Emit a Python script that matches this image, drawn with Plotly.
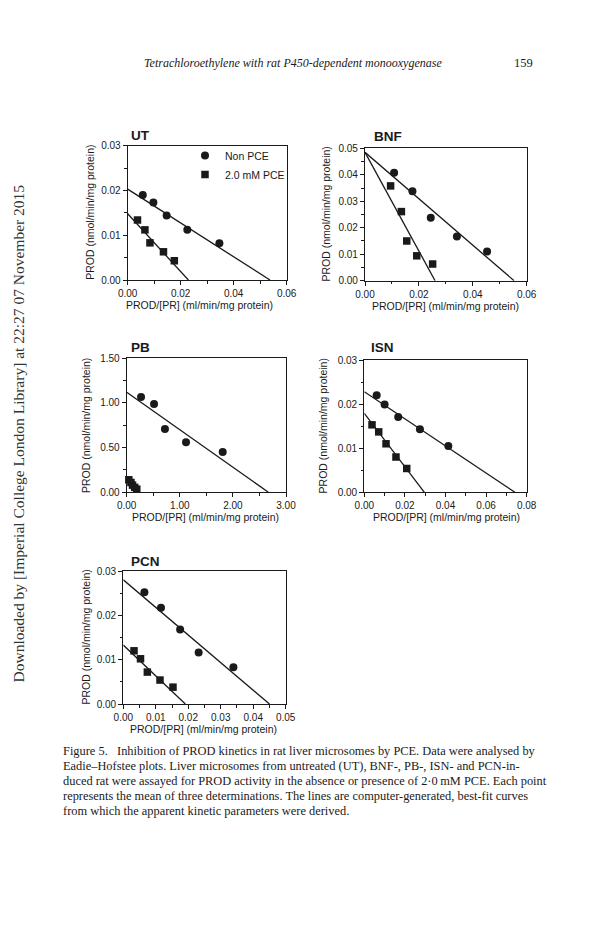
import plotly.graph_objects as go

W, H = 615, 944

# ---------------- data ----------------
panels = ["UT", "BNF", "PB", "ISN", "PCN"]

ut_non_x = [0.0057, 0.0097, 0.0147, 0.0225, 0.0346]
ut_non_y = [0.0190, 0.0173, 0.0144, 0.0112, 0.0082]
ut_pce_x = [0.0037, 0.0065, 0.0084, 0.0135, 0.0176]
ut_pce_y = [0.0134, 0.0112, 0.0083, 0.0063, 0.0043]

bnf_non_x = [0.0108, 0.0176, 0.0244, 0.0341, 0.0453]
bnf_non_y = [0.0408, 0.0338, 0.0238, 0.0167, 0.0110]
bnf_pce_x = [0.0095, 0.0135, 0.0155, 0.0192, 0.0251]
bnf_pce_y = [0.0358, 0.0261, 0.0150, 0.0094, 0.0063]

pb_non_x = [0.27, 0.515, 0.72, 1.117, 1.808]
pb_non_y = [1.067, 0.989, 0.709, 0.560, 0.451]
pb_pce_x = [0.04, 0.08, 0.11, 0.15, 0.19]
pb_pce_y = [0.14, 0.11, 0.08, 0.055, 0.035]

isn_non_x = [0.0061, 0.0100, 0.0167, 0.0274, 0.0414]
isn_non_y = [0.0220, 0.0199, 0.0171, 0.0143, 0.0105]
isn_pce_x = [0.0038, 0.0071, 0.0107, 0.0156, 0.0209]
isn_pce_y = [0.0153, 0.0137, 0.0110, 0.0080, 0.0054]

pcn_non_x = [0.0065, 0.0116, 0.0175, 0.0232, 0.0339]
pcn_non_y = [0.0252, 0.0217, 0.0168, 0.0116, 0.0083]
pcn_pce_x = [0.0033, 0.0053, 0.0074, 0.0113, 0.0153]
pcn_pce_y = [0.0120, 0.0102, 0.0072, 0.0054, 0.0038]

# best-fit lines: y-intercept (Vmax) and x-intercept for each panel
fit_non_yint = [0.0203, 0.0485, 1.12, 0.0228, 0.0280]
fit_non_xint = [0.0537, 0.0553, 2.668, 0.0742, 0.0450]
fit_pce_yint = [0.0148, 0.0485, 0.16, 0.0179, 0.0133]
fit_pce_xint = [0.0229, 0.0260, 0.24, 0.0296, 0.0191]

x_max = [0.06, 0.06, 3.0, 0.08, 0.05]
y_max = [0.03, 0.05, 1.5, 0.03, 0.03]
x_dtick = [0.02, 0.02, 1.0, 0.02, 0.01]
y_dtick = [0.01, 0.01, 0.5, 0.01, 0.01]

series_names = ["Non PCE", "2.0 mM PCE"]

x_title = "PROD/[PR] (ml/min/mg protein)"
y_title = "PROD (nmol/min/mg protein)"

header = "Tetrachloroethylene with rat P450-dependent monooxygenase"
page_no = "159"
watermark = "Downloaded by [Imperial College London Library] at 22:27 07 November 2015"
caption_lines = [
    "Figure 5.   Inhibition of PROD kinetics in rat liver microsomes by PCE. Data were analysed by",
    "Eadie\u2013Hofstee plots. Liver microsomes from untreated (UT), BNF-, PB-, ISN- and PCN-in-",
    "duced rat were assayed for PROD activity in the absence or presence of 2\u00b70\u202fmM PCE. Each point",
    "represents the mean of three determinations. The lines are computer-generated, best-fit curves",
    "from which the apparent kinetic parameters were derived.",
]

# ---------------- layout geometry (pixels on the page) ----------------
# (left, right, top, bottom) of each plotting box
boxes = [
    (127.7, 286.7, 145.7, 280.0),
    (365.0, 526.7, 148.3, 280.7),
    (126.7, 286.0, 358.3, 492.3),
    (364.3, 526.7, 360.0, 492.3),
    (123.3, 285.7, 571.0, 704.0),
]
title_pos = [(140, 135), (388, 136.5), (140, 348), (382, 348), (145, 561.5)]
xtitle_x = [199, 445, 205, 446.7, 203]
ytitle_x = [90, 325, 86.7, 323.3, 85]

data_sets = [
    (ut_non_x, ut_non_y, ut_pce_x, ut_pce_y),
    (bnf_non_x, bnf_non_y, bnf_pce_x, bnf_pce_y),
    (pb_non_x, pb_non_y, pb_pce_x, pb_pce_y),
    (isn_non_x, isn_non_y, isn_pce_x, isn_pce_y),
    (pcn_non_x, pcn_non_y, pcn_pce_x, pcn_pce_y),
]

INK = "#1a1a1a"
SANS = "Liberation Sans, Arial, Helvetica, sans-serif"
SERIF = "Liberation Serif, Times New Roman, serif"
FS = 10
OFF = 8  # the page body margin shifts the figure by this much


def px(x):
    return (x - OFF) / W


def py(y):
    return 1 - (y - OFF) / H


fig = go.Figure()
layout = dict(
    width=W, height=H, margin=dict(l=0, r=0, t=0, b=0, pad=0, autoexpand=False),
    paper_bgcolor="white", plot_bgcolor="white",
    font=dict(family=SANS, color=INK, size=FS),
    showlegend=True,
    legend=dict(x=px(185), y=py(141), xanchor="left", yanchor="top",
                bgcolor="rgba(0,0,0,0)", font=dict(size=10.5, family=SANS, color=INK),
                tracegroupgap=0, itemwidth=30),
)
annotations = []

for i, name in enumerate(panels):
    k = "" if i == 0 else str(i + 1)
    xa, ya = "x" + k, "y" + k
    l, r, t, b = boxes[i]
    nx, ny, sx, sy = data_sets[i]
    show = i == 0
    # fitted lines
    fig.add_trace(go.Scatter(x=[0, fit_non_xint[i]], y=[fit_non_yint[i], 0], mode="lines",
                             line=dict(color=INK, width=1.3), xaxis=xa, yaxis=ya,
                             showlegend=False, hoverinfo="skip"))
    fig.add_trace(go.Scatter(x=[0, fit_pce_xint[i]], y=[fit_pce_yint[i], 0], mode="lines",
                             line=dict(color=INK, width=1.3), xaxis=xa, yaxis=ya,
                             showlegend=False, hoverinfo="skip"))
    # points
    fig.add_trace(go.Scatter(x=nx, y=ny, mode="markers", name=series_names[0],
                             marker=dict(symbol="circle", size=8, color=INK),
                             xaxis=xa, yaxis=ya, showlegend=show, cliponaxis=False))
    fig.add_trace(go.Scatter(x=sx, y=sy, mode="markers", name=series_names[1],
                             marker=dict(symbol="square", size=7.5, color=INK),
                             xaxis=xa, yaxis=ya, showlegend=show, cliponaxis=False))

    axis_common = dict(showline=True, linecolor=INK, linewidth=1.2, mirror=True,
                       ticks="outside", ticklen=4, tickwidth=1, tickcolor=INK,
                       showgrid=False, zeroline=False, tickformat=".2f", automargin=False,
                       tickfont=dict(size=FS, family=SANS, color=INK), fixedrange=True)
    layout["xaxis" + k] = dict(axis_common, domain=[px(l), px(r)], range=[0, x_max[i]],
                               dtick=x_dtick[i], tick0=0, anchor=ya,
                               minor=dict(ticks="outside", ticklen=2.5, dtick=x_dtick[i] / 2,
                                          tickcolor=INK, tickwidth=1))
    layout["yaxis" + k] = dict(axis_common, domain=[py(b), py(t)], range=[0, y_max[i]],
                               dtick=y_dtick[i], tick0=0, anchor=xa,
                               minor=dict(ticks="outside", ticklen=2.5, dtick=y_dtick[i] / 2,
                                          tickcolor=INK, tickwidth=1))
    tx, ty = title_pos[i]
    annotations.append(dict(text="<b>%s</b>" % name, x=px(tx), y=py(ty), xref="paper", yref="paper",
                            xanchor="center", yanchor="middle", showarrow=False,
                            font=dict(size=13.5, family=SANS, color=INK)))
    annotations.append(dict(text=x_title, x=px(xtitle_x[i]), y=py(b + 25), xref="paper", yref="paper",
                            xanchor="center", yanchor="middle", showarrow=False,
                            font=dict(size=10.5, family=SANS, color=INK)))
    annotations.append(dict(text=y_title, x=px(ytitle_x[i]), y=py((t + b) / 2), xref="paper",
                            yref="paper", xanchor="center", yanchor="middle", showarrow=False,
                            textangle=-90, font=dict(size=10.5, family=SANS, color=INK)))

# page header
annotations.append(dict(text="<i>%s</i>" % header, x=px(292.5), y=py(63), xref="paper", yref="paper",
                        xanchor="center", yanchor="middle", showarrow=False,
                        font=dict(size=12, family=SERIF, color=INK)))
annotations.append(dict(text=page_no, x=px(535), y=py(63), xref="paper", yref="paper",
                        xanchor="right", yanchor="middle", showarrow=False,
                        font=dict(size=12.5, family=SERIF, color=INK)))
# side watermark
annotations.append(dict(text=watermark, x=px(17.5), y=py(434), xref="paper", yref="paper",
                        xanchor="center", yanchor="middle", showarrow=False, textangle=-90,
                        font=dict(size=15.5, family=SERIF, color="#333")))
# caption
cap_y = [751, 766, 781, 796, 811]
for line, yy in zip(caption_lines, cap_y):
    annotations.append(dict(text=line, x=px(61), y=py(yy), xref="paper", yref="paper",
                            xanchor="left", yanchor="middle", showarrow=False,
                            font=dict(size=12.4, family=SERIF, color=INK)))

layout["annotations"] = annotations
fig.update_layout(**layout)
fig.write_html("out.html")
